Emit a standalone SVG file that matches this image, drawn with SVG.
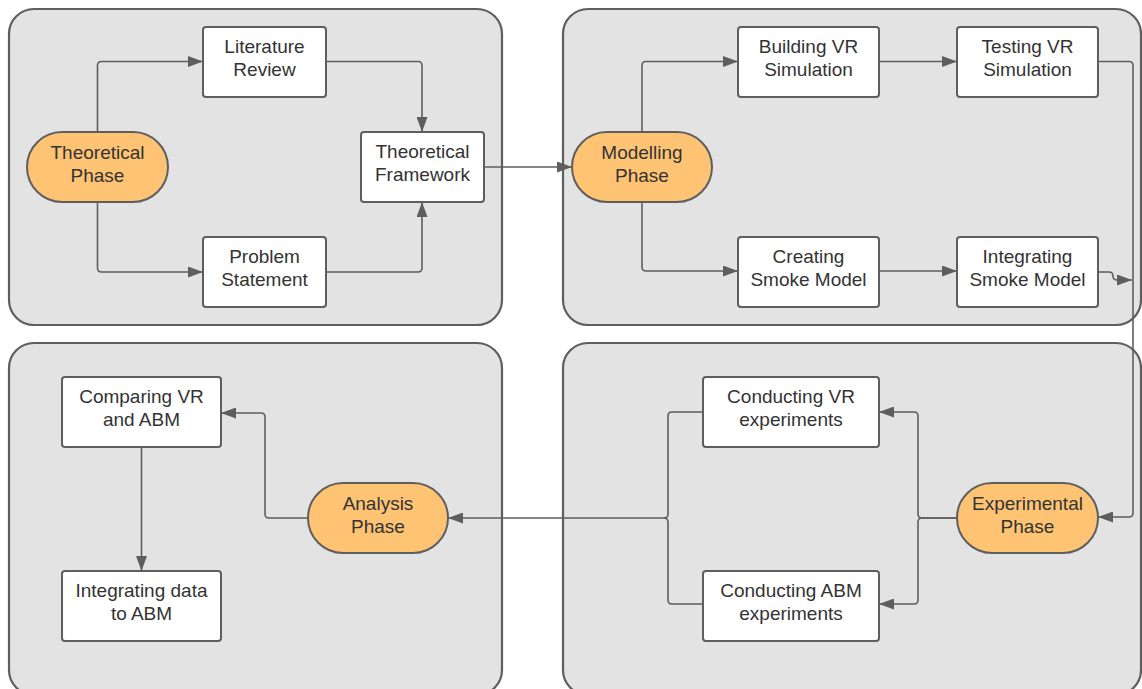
<svg xmlns="http://www.w3.org/2000/svg" width="1142" height="689" viewBox="0 0 1142 689">
  <style>
    .panel { fill: #e3e3e3; stroke: #5e5e5e; stroke-width: 2.2; }
    .box { fill: #ffffff; stroke: #5e5e5e; stroke-width: 2; }
    .phase { fill: #ffc374; stroke: #5e5e5e; stroke-width: 2; }
    .conn { fill: none; stroke: #5e5e5e; stroke-width: 1.6; }
    .arr { marker-end: url(#arrow); }
    text { font-family: "Liberation Sans", Arial, sans-serif; font-size: 19px; fill: #333333; text-anchor: middle; }
  </style>
  <defs>
    <marker id="arrow" markerUnits="userSpaceOnUse" markerWidth="15" markerHeight="11" refX="15" refY="5.5" orient="auto">
      <path d="M0,0 L15,5.5 L0,11 z" fill="#5e5e5e"/>
    </marker>
  </defs>

  <!-- phase panels -->
  <g id="panels">
    <rect class="panel" x="9" y="9" width="493" height="316" rx="25"/>
    <rect class="panel" x="563" y="9" width="578" height="316" rx="25"/>
    <rect class="panel" x="9" y="343" width="493" height="352" rx="25"/>
    <rect class="panel" x="563" y="343" width="578" height="352" rx="25"/>
  </g>

  <!-- connectors -->
  <g id="connectors">
    <path class="conn arr" d="M97.5,132 V65.5 Q97.5,61.5 101.5,61.5 H203"/>
    <path class="conn arr" d="M97.5,202 V268 Q97.5,272 101.5,272 H203"/>
    <path class="conn arr" d="M326,61.5 H418 Q422,61.5 422,65.5 V132"/>
    <path class="conn arr" d="M326,272 H418 Q422,272 422,268 V202"/>
    <path class="conn arr" d="M484,167 H572"/>

    <path class="conn arr" d="M642,132 V65.5 Q642,61.5 646,61.5 H738"/>
    <path class="conn arr" d="M642,202 V267 Q642,271 646,271 H738"/>
    <path class="conn arr" d="M879,61.5 H957"/>
    <path class="conn arr" d="M879,271 H957"/>
    <path class="conn arr" d="M1098,61.5 H1129 Q1133,61.5 1133,65.5 V513 Q1133,517 1129,517 H1098"/>
    <path class="conn arr" d="M1098,272 H1109 Q1113,272 1113,276 Q1113,280 1117,280 H1132"/>

    <path class="conn arr" d="M957,518 H922 Q918,518 918,514 V416 Q918,412 914,412 H879"/>
    <path class="conn arr" d="M957,518 H922 Q918,518 918,522 V600 Q918,604 914,604 H879"/>
    <path class="conn" d="M703,412 H672 Q668,412 668,416 V514 Q668,518 664,518"/>
    <path class="conn" d="M703,604 H672 Q668,604 668,600 V522 Q668,518 664,518"/>
    <path class="conn arr" d="M664,518 H448"/>

    <path class="conn arr" d="M308,518 H269 Q265,518 265,514 V417 Q265,413 261,413 H221"/>
    <path class="conn arr" d="M141.5,447 V571"/>
  </g>

  <!-- theoretical phase -->
  <g id="theoretical-phase">
    <rect class="phase" x="27" y="132" width="141" height="70" rx="35"/>
    <text x="97.5" y="159">Theoretical</text>
    <text x="97.5" y="182">Phase</text>
  </g>
  <g id="literature-review">
    <rect class="box" x="203" y="27" width="123" height="70" rx="3"/>
    <text x="264.5" y="53">Literature</text>
    <text x="264.5" y="76">Review</text>
  </g>
  <g id="problem-statement">
    <rect class="box" x="203" y="237" width="123" height="70" rx="3"/>
    <text x="264.5" y="263">Problem</text>
    <text x="264.5" y="286">Statement</text>
  </g>
  <g id="theoretical-framework">
    <rect class="box" x="361" y="132" width="123" height="70" rx="3"/>
    <text x="422.5" y="158">Theoretical</text>
    <text x="422.5" y="181">Framework</text>
  </g>

  <!-- modelling phase -->
  <g id="modelling-phase">
    <rect class="phase" x="572" y="132" width="140" height="70" rx="35"/>
    <text x="642" y="159">Modelling</text>
    <text x="642" y="182">Phase</text>
  </g>
  <g id="building-vr">
    <rect class="box" x="738" y="27" width="141" height="70" rx="3"/>
    <text x="808.5" y="53">Building VR</text>
    <text x="808.5" y="76">Simulation</text>
  </g>
  <g id="testing-vr">
    <rect class="box" x="957" y="27" width="141" height="70" rx="3"/>
    <text x="1027.5" y="53">Testing VR</text>
    <text x="1027.5" y="76">Simulation</text>
  </g>
  <g id="creating-smoke">
    <rect class="box" x="738" y="237" width="141" height="70" rx="3"/>
    <text x="808.5" y="263">Creating</text>
    <text x="808.5" y="286">Smoke Model</text>
  </g>
  <g id="integrating-smoke">
    <rect class="box" x="957" y="237" width="141" height="70" rx="3"/>
    <text x="1027.5" y="263">Integrating</text>
    <text x="1027.5" y="286">Smoke Model</text>
  </g>

  <!-- analysis phase -->
  <g id="analysis-phase">
    <rect class="phase" x="308" y="483" width="140" height="70" rx="35"/>
    <text x="378" y="510">Analysis</text>
    <text x="378" y="533">Phase</text>
  </g>
  <g id="comparing">
    <rect class="box" x="62" y="377" width="159" height="70" rx="3"/>
    <text x="141.5" y="403">Comparing VR</text>
    <text x="141.5" y="426">and ABM</text>
  </g>
  <g id="integrating-data">
    <rect class="box" x="62" y="571" width="159" height="70" rx="3"/>
    <text x="141.5" y="597">Integrating data</text>
    <text x="141.5" y="620">to ABM</text>
  </g>

  <!-- experimental phase -->
  <g id="experimental-phase">
    <rect class="phase" x="957" y="483" width="141" height="70" rx="35"/>
    <text x="1027.5" y="510">Experimental</text>
    <text x="1027.5" y="533">Phase</text>
  </g>
  <g id="conducting-vr">
    <rect class="box" x="703" y="377" width="176" height="70" rx="3"/>
    <text x="791" y="403">Conducting VR</text>
    <text x="791" y="426">experiments</text>
  </g>
  <g id="conducting-abm">
    <rect class="box" x="703" y="571" width="176" height="70" rx="3"/>
    <text x="791" y="597">Conducting ABM</text>
    <text x="791" y="620">experiments</text>
  </g>
</svg>
